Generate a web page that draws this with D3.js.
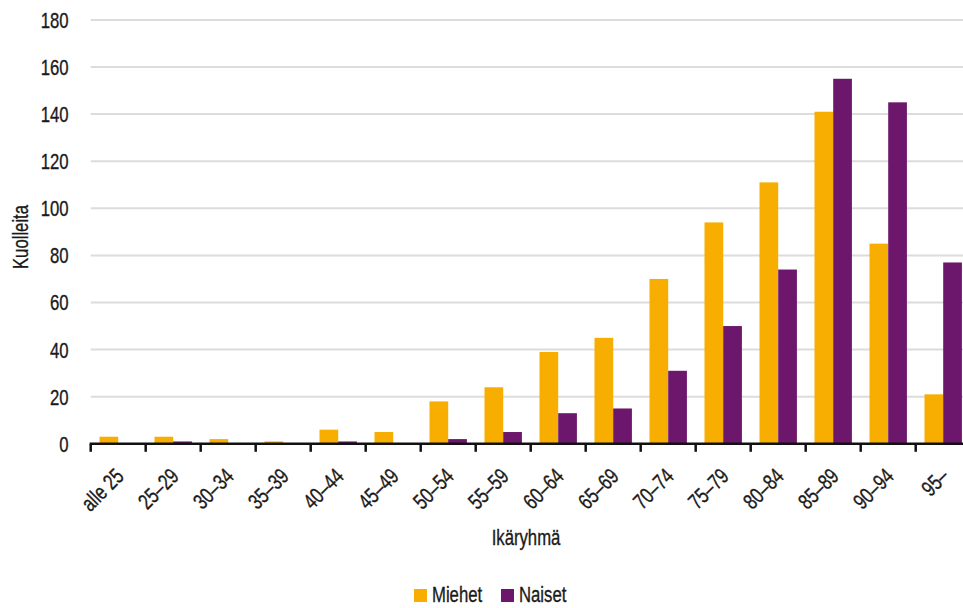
<!DOCTYPE html>
<html><head><meta charset="utf-8">
<script src="https://d3js.org/d3.v7.min.js"></script>
<style>
body{margin:0;background:#fff;}
text{font-family:"Liberation Sans",Arial,sans-serif;fill:#1a1a1a;font-size:22px;stroke:#1a1a1a;stroke-width:0.35px;}
</style></head>
<body>
<svg id="c" width="963" height="608"></svg>
<script>
const categories = ["alle 25","25–29","30–34","35–39","40–44","45–49","50–54","55–59","60–64","65–69","70–74","75–79","80–84","85–89","90–94","95–"];
const miehet = [3,3,2,1,6,5,18,24,39,45,70,94,111,141,85,21];
const naiset = [0,1,0,0,1,0,2,5,13,15,31,50,74,155,145,77];
const seriesNames = ["Miehet","Naiset"];
const colors = ["#F7AE00","#6C176C"];
const yTicks = [0,20,40,60,80,100,120,140,160,180];

const SX = 0.76; // condensed look
const svg = d3.select("#c");
const x0 = 90.7, x1 = 90.7 + 55*16;
const x = d3.scaleBand().domain(categories).range([x0, x1]).paddingInner(0).paddingOuter(0);
const y = d3.scaleLinear().domain([0,180]).range([443.8, 19.9]);
const xs = d3.scaleBand().domain(seriesNames).range([0, x.bandwidth()]).paddingInner(0).paddingOuter(0.47);

// gridlines
svg.append("g").selectAll("line").data(yTicks.filter(d=>d>0)).join("line")
  .attr("x1", x0).attr("x2", 963).attr("y1", d=>y(d)).attr("y2", d=>y(d))
  .attr("stroke", "#dcdcdc").attr("stroke-width", 2);

// y labels
svg.append("g").selectAll("text").data(yTicks).join("text")
  .attr("transform", d=>`translate(68.5,${y(d)}) scale(${SX},1)`)
  .attr("dy", "0.36em").attr("text-anchor","end").text(d=>d);

// bars
const data = categories.map((c,i)=>({c, vals:[miehet[i], naiset[i]]}));
const g = svg.append("g");
g.selectAll("g").data(data).join("g")
  .attr("transform", d=>`translate(${x(d.c)},0)`)
  .selectAll("rect").data(d=>d.vals.map((v,j)=>({v, s:seriesNames[j], j})))
  .join("rect")
  .attr("x", d=>xs(d.s)).attr("width", xs.bandwidth())
  .attr("y", d=>y(d.v)).attr("height", d=>y(0)-y(d.v))
  .attr("fill", d=>colors[d.j]);

// x axis
const ax = svg.append("g").attr("transform", `translate(0,${y(0)})`);
ax.append("line").attr("x1", x0-1).attr("x2", 963).attr("y1",0).attr("y2",0)
  .attr("stroke","#111").attr("stroke-width",2.5);
ax.selectAll("line.t").data(categories).join("line").attr("class","t")
  .attr("x1", d=>x(d)).attr("x2", d=>x(d)).attr("y1",0).attr("y2",8)
  .attr("stroke","#111").attr("stroke-width",2.5);
ax.selectAll("text").data(categories).join("text")
  .attr("transform", d=>`translate(${x(d)+x.bandwidth()/2-4},${23}) rotate(-45) scale(${SX},1)`)
  .attr("text-anchor","end").attr("dy","0.7em").text(d=>d);

// axis titles
svg.append("text").attr("transform","translate(526,545) scale(" + SX + ",1)").attr("text-anchor","middle")
  .text("Ikäryhmä");
svg.append("text").attr("transform",`translate(27.5,237) rotate(-90) scale(${SX},1)`).attr("text-anchor","middle")
  .text("Kuolleita");

// legend
const leg = svg.append("g");
const lx = [414, 501];
seriesNames.forEach((n,i)=>{
  leg.append("rect").attr("x", lx[i]).attr("y", 589).attr("width", 13).attr("height", 13).attr("fill", colors[i]);
  leg.append("text").attr("transform",`translate(${lx[i]+18},602) scale(${SX},1)`).text(n);
});
</script>
</body></html>
